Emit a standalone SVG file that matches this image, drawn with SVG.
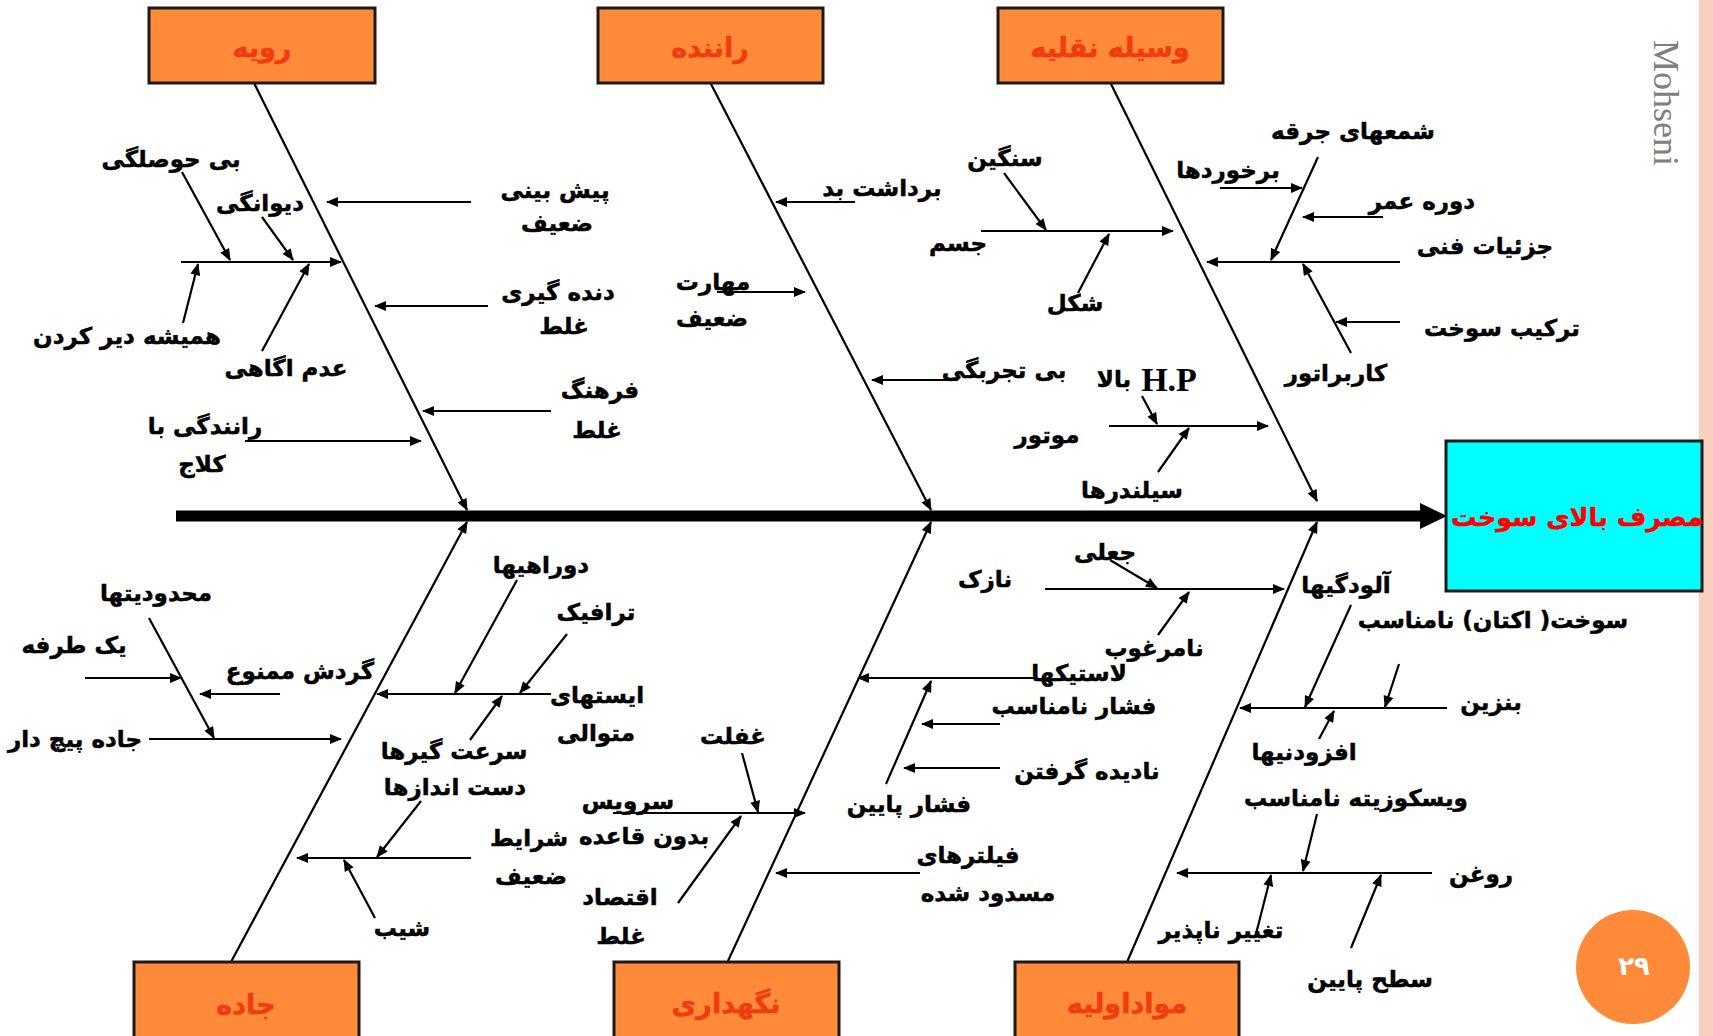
<svg xmlns="http://www.w3.org/2000/svg" width="1713" height="1036" viewBox="0 0 1713 1036">
<style>
.lbl{font-family:"DejaVu Sans","Noto Sans",sans-serif;font-weight:bold;font-size:23px;fill:#000;stroke:#000;stroke-width:0.5;text-anchor:middle;dominant-baseline:central;direction:rtl}
.ttl{font-family:"DejaVu Sans","Noto Sans",sans-serif;font-weight:bold;font-size:27px;fill:#F03C0F;stroke:#F03C0F;stroke-width:0.5;text-anchor:middle;dominant-baseline:central;direction:rtl}
.box{fill:#FF8A3A;stroke:#1a1a1a;stroke-width:3}
.bone{stroke:#000;stroke-width:2.2;fill:none;marker-end:url(#ah)}
.arr{stroke:#000;stroke-width:2.2;fill:none;marker-end:url(#ah)}
</style>
<defs>
<marker id="ah" viewBox="0 0 12 10" refX="11" refY="5" markerWidth="13" markerHeight="10" markerUnits="userSpaceOnUse" orient="auto">
<path d="M0,0 L12,5 L0,10 z" fill="#000"/>
</marker>
</defs>
<rect x="0" y="0" width="1713" height="1036" fill="#fff"/>
<rect x="1699" y="0" width="14" height="1036" fill="#F9CFC0"/>

<g id="connectors">
<line x1="176" y1="516" x2="1424" y2="516" stroke="#000" stroke-width="11"/>
<polygon points="1420,503 1447,516 1420,529" fill="#000"/>
<line class="bone" x1="254.5" y1="84" x2="467" y2="510"/>
<line class="bone" x1="711" y1="84" x2="931" y2="510"/>
<line class="bone" x1="1111" y1="84" x2="1317" y2="501"/>
<line class="bone" x1="231.5" y1="961" x2="467" y2="522"/>
<line class="bone" x1="728" y1="961" x2="931" y2="522"/>
<line class="bone" x1="1127.5" y1="961" x2="1317" y2="522"/>

<line class="arr" x1="471" y1="202" x2="327" y2="202"/>
<line class="arr" x1="488" y1="306" x2="375" y2="306"/>
<line class="arr" x1="551" y1="411" x2="423" y2="411"/>
<line class="arr" x1="245" y1="441" x2="421" y2="441"/>
<line class="arr" x1="181" y1="262" x2="341" y2="262"/>
<line class="arr" x1="182" y1="172" x2="230" y2="260"/>
<line class="arr" x1="262" y1="217" x2="293" y2="260"/>
<line class="arr" x1="183" y1="323" x2="198" y2="264"/>
<line class="arr" x1="262" y1="351" x2="309" y2="264"/>

<line class="arr" x1="855" y1="202" x2="776" y2="202"/>
<line class="arr" x1="717" y1="292" x2="805" y2="292"/>
<line class="arr" x1="958" y1="380" x2="872" y2="380"/>

<line class="arr" x1="981" y1="231" x2="1173" y2="231"/>
<line class="arr" x1="1004" y1="173" x2="1046" y2="230"/>
<line class="arr" x1="1078" y1="293" x2="1109" y2="234"/>
<line class="arr" x1="1109" y1="426" x2="1268" y2="426"/>
<line class="arr" x1="1142" y1="396" x2="1157" y2="424"/>
<line class="arr" x1="1158" y1="472" x2="1189" y2="428"/>
<line class="arr" x1="1400" y1="262" x2="1207" y2="262"/>
<line class="arr" x1="1318" y1="157" x2="1271" y2="260"/>
<line class="arr" x1="1220" y1="188" x2="1302" y2="188"/>
<line class="arr" x1="1383" y1="217" x2="1303" y2="217"/>
<line class="arr" x1="1351" y1="353" x2="1303" y2="264"/>
<line class="arr" x1="1400" y1="322" x2="1336" y2="322"/>

<line class="arr" x1="149" y1="739" x2="341" y2="739"/>
<line class="arr" x1="149" y1="618" x2="214" y2="738"/>
<line class="arr" x1="85" y1="678" x2="181" y2="678"/>
<line class="arr" x1="280" y1="694" x2="200" y2="694"/>
<line class="arr" x1="551" y1="694" x2="377" y2="694"/>
<line class="arr" x1="517" y1="580" x2="455" y2="693"/>
<line class="arr" x1="567" y1="634" x2="520" y2="693"/>
<line class="arr" x1="470" y1="740" x2="502" y2="696"/>
<line class="arr" x1="471" y1="858" x2="297" y2="858"/>
<line class="arr" x1="421" y1="801" x2="377" y2="857"/>
<line class="arr" x1="375" y1="918" x2="344" y2="860"/>

<line class="arr" x1="613" y1="813" x2="805" y2="813"/>
<line class="arr" x1="742" y1="753" x2="758" y2="812"/>
<line class="arr" x1="678" y1="903" x2="741" y2="816"/>
<line class="arr" x1="1035" y1="678" x2="858" y2="678"/>
<line class="arr" x1="886" y1="784" x2="931" y2="681"/>
<line class="arr" x1="1000" y1="724" x2="922" y2="724"/>
<line class="arr" x1="1000" y1="768" x2="904" y2="768"/>
<line class="arr" x1="920" y1="873" x2="776" y2="873"/>

<line class="arr" x1="1045" y1="589" x2="1284" y2="589"/>
<line class="arr" x1="1110" y1="560" x2="1157" y2="588"/>
<line class="arr" x1="1158" y1="635" x2="1189" y2="592"/>
<line class="arr" x1="1447" y1="708" x2="1240" y2="708"/>
<line class="arr" x1="1351" y1="605" x2="1305" y2="707"/>
<line class="arr" x1="1399" y1="664" x2="1385" y2="707"/>
<line class="arr" x1="1319" y1="739" x2="1334" y2="711"/>
<line class="arr" x1="1432" y1="873" x2="1177" y2="873"/>
<line class="arr" x1="1317" y1="814" x2="1303" y2="871"/>
<line class="arr" x1="1256" y1="934" x2="1271" y2="875"/>
<line class="arr" x1="1351" y1="948" x2="1381" y2="875"/>
</g>

<g id="node-ravieh"><rect class="box" x="149" y="8" width="226" height="75"/><text class="ttl" x="262" y="47">رویه</text></g>
<g id="node-ranandeh"><rect class="box" x="598" y="8" width="225" height="75"/><text class="ttl" x="710" y="47">راننده</text></g>
<g id="node-vasileh"><rect class="box" x="998" y="8" width="225" height="75"/><text class="ttl" x="1110" y="47">وسیله نقلیه</text></g>
<g id="node-jadeh"><rect class="box" x="134" y="962" width="225" height="80"/><text class="ttl" x="246" y="1004">جاده</text></g>
<g id="node-negahdari"><rect class="box" x="614" y="962" width="225" height="80"/><text class="ttl" x="726" y="1003">نگهداری</text></g>
<g id="node-mavad"><rect class="box" x="1015" y="962" width="224" height="80"/><text class="ttl" x="1127" y="1003">مواداولیه</text></g>
<g id="node-effect"><rect x="1446" y="441" width="256" height="150" fill="#00FFFF" stroke="#1a1a1a" stroke-width="3"/><text class="ttl" x="1577" y="517" style="fill:#FF0000;stroke:#FF0000;font-size:25.5px">مصرف بالای سوخت</text></g>

<g id="labels" transform="translate(0,-2)">
<text class="lbl" x="171" y="161">بی حوصلگی</text>
<text class="lbl" x="260" y="205">دیوانگی</text>
<text class="lbl" x="127" y="338">همیشه دیر کردن</text>
<text class="lbl" x="286" y="370">عدم اگاهی</text>
<text class="lbl" x="205" y="428">رانندگی با</text>
<text class="lbl" x="202" y="466">کلاج</text>
<text class="lbl" x="555" y="192">پیش بینی</text>
<text class="lbl" x="557" y="225">ضعیف</text>
<text class="lbl" x="558" y="294">دنده گیری</text>
<text class="lbl" x="564" y="328">غلط</text>
<text class="lbl" x="600" y="392">فرهنگ</text>
<text class="lbl" x="597" y="432">غلط</text>

<text class="lbl" x="882" y="190">برداشت بد</text>
<text class="lbl" x="713" y="284">مهارت</text>
<text class="lbl" x="712" y="320">ضعیف</text>
<text class="lbl" x="1004" y="372">بی تجربگی</text>

<text class="lbl" x="1005" y="160">سنگین</text>
<text class="lbl" x="958" y="245">جسم</text>
<text class="lbl" x="1075" y="305">شکل</text>
<text class="lbl" x="1047" y="437">موتور</text>
<text class="lbl" x="1114" y="381">بالا</text>
<text x="1169" y="393" style="font-family:'Liberation Serif',serif;font-weight:bold;font-size:34px;text-anchor:middle">H.P</text>
<text class="lbl" x="1132" y="492">سیلندرها</text>
<text class="lbl" x="1353" y="133">شمعهای جرقه</text>
<text class="lbl" x="1228" y="172">برخوردها</text>
<text class="lbl" x="1422" y="203">دوره عمر</text>
<text class="lbl" x="1485" y="248">جزئیات فنی</text>
<text class="lbl" x="1502" y="330">ترکیب سوخت</text>
<text class="lbl" x="1336" y="375">کاربراتور</text>

<text class="lbl" x="156" y="595">محدودیتها</text>
<text class="lbl" x="74" y="647">یک طرفه</text>
<text class="lbl" x="300" y="673">گردش ممنوع</text>
<text class="lbl" x="75" y="741">جاده پیچ دار</text>
<text class="lbl" x="541" y="567">دوراهیها</text>
<text class="lbl" x="596" y="614">ترافیک</text>
<text class="lbl" x="597" y="697">ایستهای</text>
<text class="lbl" x="596" y="735">متوالی</text>
<text class="lbl" x="454" y="753">سرعت گیرها</text>
<text class="lbl" x="455" y="789">دست اندازها</text>
<text class="lbl" x="529" y="840">شرایط</text>
<text class="lbl" x="531" y="878">ضعیف</text>
<text class="lbl" x="402" y="930">شیب</text>

<text class="lbl" x="733" y="738">غفلت</text>
<text class="lbl" x="628" y="803">سرویس</text>
<text class="lbl" x="644" y="838">بدون قاعده</text>
<text class="lbl" x="620" y="899">اقتصاد</text>
<text class="lbl" x="621" y="938">غلط</text>
<text class="lbl" x="1079" y="675">لاستیکها</text>
<text class="lbl" x="1074" y="708">فشار نامناسب</text>
<text class="lbl" x="1087" y="773">نادیده گرفتن</text>
<text class="lbl" x="909" y="806">فشار پایین</text>
<text class="lbl" x="968" y="857">فیلترهای</text>
<text class="lbl" x="988" y="895">مسدود شده</text>

<text class="lbl" x="1105" y="554">جعلی</text>
<text class="lbl" x="985" y="581">نازک</text>
<text class="lbl" x="1154" y="650">نامرغوب</text>
<text class="lbl" x="1346" y="587">آلودگیها</text>
<text class="lbl" x="1493" y="622">سوخت( اکتان) نامناسب</text>
<text class="lbl" x="1491" y="704">بنزین</text>
<text class="lbl" x="1304" y="754">افزودنیها</text>
<text class="lbl" x="1356" y="800">ویسکوزیته نامناسب</text>
<text class="lbl" x="1481" y="876">روغن</text>
<text class="lbl" x="1221" y="932">تغییر ناپذیر</text>
<text class="lbl" x="1370" y="981">سطح پایین</text>
</g>

<g id="page-number"><circle cx="1633" cy="967" r="57" fill="#FF8A3A"/><text x="1634" y="966" style="font-family:'DejaVu Sans',sans-serif;font-weight:bold;font-size:26px;fill:#fff;text-anchor:middle;dominant-baseline:central">۲۹</text></g>
<text x="1666" y="103" transform="rotate(90 1666 103)" style="font-family:'Liberation Serif',serif;font-size:36px;fill:#808080;text-anchor:middle;dominant-baseline:central">Mohseni</text>
</svg>
